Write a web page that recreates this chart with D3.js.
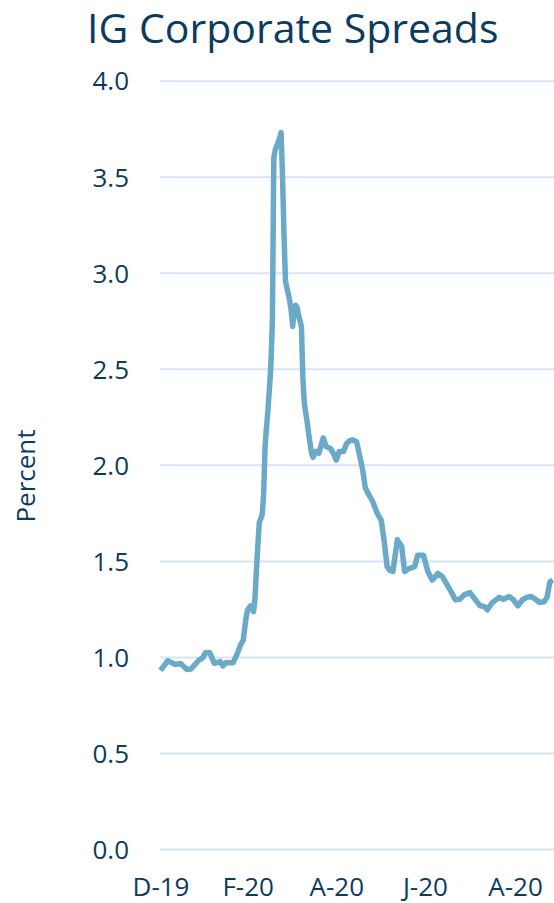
<!DOCTYPE html>
<html>
<head>
<meta charset="utf-8">
<script src="https://cdn.jsdelivr.net/npm/d3@7"></script>
<style>
  html, body { margin: 0; padding: 0; background: #ffffff; }
  svg { display: block; }
  text { font-family: "Open Sans", "Noto Sans", sans-serif; fill: #0c3b60; }
</style>
</head>
<body>
<svg id="chart" width="554" height="903"></svg>
<script>
// IG corporate bond spreads, percent
const dates = [
  "2019-12-31","2020-01-05","2020-01-10","2020-01-14","2020-01-18","2020-01-21",
  "2020-01-26","2020-01-29","2020-01-31","2020-02-03","2020-02-06","2020-02-10",
  "2020-02-12","2020-02-14","2020-02-19","2020-02-22","2020-02-24","2020-02-26",
  "2020-02-28","2020-02-29","2020-03-02","2020-03-04","2020-03-05","2020-03-06",
  "2020-03-07","2020-03-08","2020-03-09","2020-03-10","2020-03-11","2020-03-12",
  "2020-03-13","2020-03-14","2020-03-15","2020-03-16","2020-03-17","2020-03-18",
  "2020-03-19","2020-03-20","2020-03-21","2020-03-22","2020-03-23","2020-03-24",
  "2020-03-25","2020-03-26","2020-03-27","2020-03-28","2020-03-29","2020-03-30",
  "2020-03-31","2020-04-01","2020-04-02","2020-04-03","2020-04-04","2020-04-05",
  "2020-04-06","2020-04-07","2020-04-08","2020-04-09","2020-04-10","2020-04-11",
  "2020-04-12","2020-04-13","2020-04-14","2020-04-16","2020-04-18","2020-04-21",
  "2020-04-23","2020-04-26","2020-04-28","2020-04-30","2020-05-02","2020-05-05",
  "2020-05-07","2020-05-09","2020-05-11","2020-05-14","2020-05-16","2020-05-18",
  "2020-05-20","2020-05-22","2020-05-25","2020-05-28","2020-05-31","2020-06-02",
  "2020-06-04","2020-06-06","2020-06-08","2020-06-11","2020-06-14","2020-06-16",
  "2020-06-19","2020-06-23","2020-06-25","2020-06-29","2020-07-02","2020-07-05",
  "2020-07-09","2020-07-12","2020-07-16","2020-07-18","2020-07-21","2020-07-24",
  "2020-07-27","2020-07-31","2020-08-03","2020-08-07","2020-08-10","2020-08-12",
  "2020-08-15","2020-08-20","2020-08-23","2020-08-27","2020-08-30","2020-09-02",
  "2020-09-05","2020-09-08","2020-09-11","2020-09-14","2020-09-17","2020-09-20",
  "2020-09-22","2020-09-24","2020-09-26"
];
const spreads = [
  0.93, 0.98, 0.962, 0.965, 0.935, 0.937,
  0.98, 0.995, 1.022, 1.022, 0.967, 0.976,
  0.953, 0.97, 0.97, 1.02, 1.06, 1.09,
  1.21, 1.245, 1.266, 1.236, 1.30, 1.45,
  1.58, 1.70, 1.72, 1.74, 1.85, 2.10,
  2.20, 2.29, 2.40, 2.52, 2.75, 3.60,
  3.64, 3.66, 3.68, 3.70, 3.73, 3.50,
  3.20, 2.96, 2.92, 2.89, 2.85, 2.80,
  2.72, 2.81, 2.83, 2.82, 2.78, 2.75,
  2.72, 2.45, 2.32, 2.27, 2.22, 2.16,
  2.11, 2.06, 2.04, 2.07, 2.06, 2.14,
  2.095, 2.085, 2.06, 2.025, 2.07, 2.07,
  2.11, 2.125, 2.13, 2.12, 2.05, 1.98,
  1.88, 1.85, 1.81, 1.75, 1.71, 1.60,
  1.47, 1.45, 1.445, 1.61, 1.575, 1.445,
  1.46, 1.47, 1.53, 1.53, 1.445, 1.40,
  1.435, 1.418, 1.366, 1.34, 1.297, 1.30,
  1.323, 1.335, 1.305, 1.266, 1.262, 1.245,
  1.28, 1.31, 1.30, 1.315, 1.297, 1.266,
  1.297, 1.31, 1.315, 1.30, 1.283, 1.287,
  1.31, 1.39, 1.40
];

// Axis ticks
const xTickDates = ["2019-12-31","2020-02-29","2020-04-30","2020-06-30","2020-08-31"];
const xTickLabels = ["D-19","F-20","A-20","J-20","A-20"];
const yTicks = [0, 0.5, 1.0, 1.5, 2.0, 2.5, 3.0, 3.5, 4.0];

const parse = d3.timeParse("%Y-%m-%d");
const data = dates.map((d, i) => ({ date: parse(d), value: spreads[i] }));

const svg = d3.select("#chart");
const plotLeft = 160, plotRight = 560, plotTop = 80.7, plotBottom = 849;

const x = d3.scaleTime()
  .domain([parse("2019-12-31"), parse("2020-08-31")])
  .range([160.5, 515]);
const y = d3.scaleLinear().domain([0, 4]).range([plotBottom, plotTop]);

// Title
svg.append("text")
  .attr("x", 87).attr("y", 43)
  .attr("font-size", 41)
  .text("IG Corporate Spreads");

// Y axis with gridlines
const yAxis = d3.axisLeft(y)
  .tickValues(yTicks)
  .tickFormat(d3.format(".1f"))
  .tickSize(-(plotRight - plotLeft))
  .tickPadding(31);
const gy = svg.append("g")
  .attr("transform", `translate(${plotLeft},0)`)
  .call(yAxis);
gy.select(".domain").remove();
gy.selectAll(".tick line")
  .attr("stroke", "#d5e5f2")
  .attr("stroke-width", 2);
gy.selectAll(".tick text")
  .attr("font-size", 26)
  .attr("font-family", "\"Open Sans\", sans-serif")
  .attr("fill", "#0c3b60")
  .attr("dy", "0.357em");

// X axis labels
const xAxis = d3.axisBottom(x)
  .tickValues(xTickDates.map(parse))
  .tickFormat((d, i) => xTickLabels[i])
  .tickSize(0)
  .tickPadding(0);
const gx = svg.append("g")
  .attr("transform", `translate(0,${896})`)
  .call(xAxis);
gx.select(".domain").remove();
gx.selectAll(".tick text")
  .attr("font-size", 26)
  .attr("font-family", "\"Open Sans\", sans-serif")
  .attr("fill", "#0c3b60")
  .attr("dy", 0);

// Y axis title
svg.append("text")
  .attr("transform", "translate(35,476) rotate(-90)")
  .attr("text-anchor", "middle")
  .attr("font-size", 26)
  .text("Percent");

// Spread line
const line = d3.line()
  .x(d => x(d.date))
  .y(d => y(d.value));
svg.append("path")
  .datum(data)
  .attr("d", line)
  .attr("fill", "none")
  .attr("stroke", "#6aaac8")
  .attr("stroke-width", 5.5)
  .attr("stroke-linejoin", "round")
  .attr("stroke-linecap", "butt");
</script>
</body>
</html>
